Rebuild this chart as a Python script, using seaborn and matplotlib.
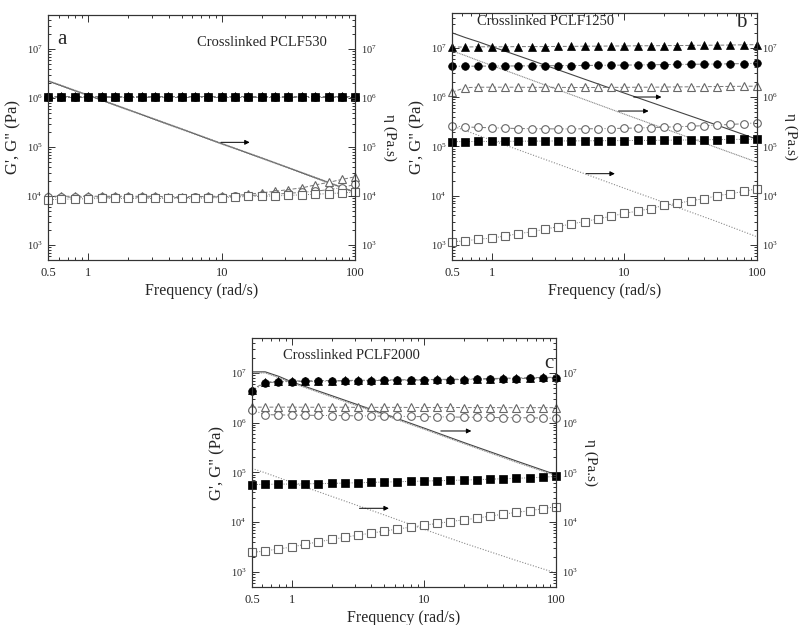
import numpy as np
import pandas as pd
import seaborn as sns
import matplotlib
matplotlib.use("Agg")
import matplotlib.pyplot as plt
from matplotlib.ticker import FixedLocator, LogLocator, NullFormatter, FixedFormatter, LogFormatterSciNotation

sns.set_theme(style="ticks")
plt.rcParams['font.family'] = ['Liberation Serif', 'DejaVu Serif']
plt.rcParams['mathtext.fontset'] = 'stix'

# frequencies (rad/s), 10 points per decade
freq = [0.5, 0.63, 0.79, 1.0, 1.26, 1.58, 2.0, 2.51, 3.16, 3.98, 5.01, 6.31,
        7.94, 10.0, 12.6, 15.8, 20.0, 25.1, 31.6, 39.8, 50.1, 63.1, 79.4, 100.0]
eta_freq = [0.5, 0.63, 0.8, 1.0, 2.0, 5.0, 10.0, 20.0, 50.0, 100.0]

# panel a - PCLF530
a_fill_tri = [1.1e6, 1.1e6, 1.1e6, 1.1e6, 1.1e6, 1.1e6, 1.1e6, 1.1e6, 1.1e6, 1.1e6, 1.1e6, 1.1e6,
              1.1e6, 1.1e6, 1.1e6, 1.1e6, 1.1e6, 1.1e6, 1.1e6, 1.1e6, 1.1e6, 1.1e6, 1.1e6, 1.1e6]
a_fill_cir = [1.08e6, 1.08e6, 1.08e6, 1.08e6, 1.08e6, 1.08e6, 1.08e6, 1.08e6, 1.08e6, 1.08e6, 1.08e6, 1.08e6,
              1.08e6, 1.08e6, 1.08e6, 1.08e6, 1.08e6, 1.08e6, 1.08e6, 1.08e6, 1.08e6, 1.08e6, 1.08e6, 1.08e6]
a_fill_sq = [1.07e6, 1.07e6, 1.07e6, 1.07e6, 1.07e6, 1.07e6, 1.07e6, 1.07e6, 1.07e6, 1.07e6, 1.07e6, 1.07e6,
             1.07e6, 1.07e6, 1.07e6, 1.07e6, 1.07e6, 1.07e6, 1.07e6, 1.07e6, 1.07e6, 1.07e6, 1.07e6, 1.07e6]
a_open_tri = [1.0e4, 1.0e4, 1.0e4, 1.0e4, 1.0e4, 1.0e4, 1.0e4, 1.0e4, 1.0e4, 9.8e3, 9.8e3, 9.8e3,
              1.0e4, 1.0e4, 1.03e4, 1.1e4, 1.18e4, 1.26e4, 1.37e4, 1.48e4, 1.7e4, 1.92e4, 2.2e4, 2.5e4]
a_open_cir = [9.6e3, 9.6e3, 9.6e3, 9.6e3, 9.6e3, 9.6e3, 9.6e3, 9.6e3, 9.6e3, 9.4e3, 9.4e3, 9.5e3,
              9.6e3, 9.8e3, 1.0e4, 1.03e4, 1.07e4, 1.1e4, 1.15e4, 1.2e4, 1.27e4, 1.36e4, 1.5e4, 1.75e4]
a_open_sq = [8.5e3, 8.7e3, 8.8e3, 8.9e3, 9.0e3, 9.0e3, 9.0e3, 9.0e3, 9.0e3, 9.0e3, 9.0e3, 9.1e3,
             9.2e3, 9.4e3, 9.6e3, 9.9e3, 1.0e4, 1.02e4, 1.04e4, 1.07e4, 1.1e4, 1.13e4, 1.17e4, 1.22e4]
a_eta_tri = [2.25e6, 1.8e6, 1.42e6, 1.15e6, 5.8e5, 2.35e5, 1.18e5, 6.0e4, 2.4e4, 1.2e4]
a_eta_cir = [2.3e6, 1.84e6, 1.45e6, 1.17e6, 5.9e5, 2.4e5, 1.2e5, 6.1e4, 2.45e4, 1.22e4]
a_eta_sq = [2.2e6, 1.76e6, 1.4e6, 1.13e6, 5.7e5, 2.3e5, 1.16e5, 5.9e4, 2.35e4, 1.18e4]

# panel b - PCLF1250
b_fill_tri = [1.03e7, 1.03e7, 1.04e7, 1.04e7, 1.04e7, 1.05e7, 1.05e7, 1.05e7, 1.06e7, 1.06e7, 1.07e7, 1.07e7,
              1.08e7, 1.08e7, 1.09e7, 1.09e7, 1.1e7, 1.1e7, 1.11e7, 1.12e7, 1.12e7, 1.13e7, 1.14e7, 1.15e7]
b_fill_cir = [4.2e6, 4.2e6, 4.22e6, 4.24e6, 4.25e6, 4.26e6, 4.28e6, 4.3e6, 4.32e6, 4.34e6, 4.36e6, 4.38e6,
              4.4e6, 4.43e6, 4.46e6, 4.5e6, 4.53e6, 4.56e6, 4.6e6, 4.63e6, 4.66e6, 4.7e6, 4.75e6, 4.8e6]
b_fill_sq = [1.25e5, 1.25e5, 1.26e5, 1.26e5, 1.27e5, 1.27e5, 1.28e5, 1.28e5, 1.29e5, 1.29e5, 1.3e5, 1.3e5,
             1.31e5, 1.31e5, 1.32e5, 1.32e5, 1.33e5, 1.34e5, 1.35e5, 1.36e5, 1.37e5, 1.38e5, 1.39e5, 1.4e5]
b_open_tri = [1.25e6, 1.55e6, 1.58e6, 1.58e6, 1.58e6, 1.58e6, 1.57e6, 1.57e6, 1.57e6, 1.56e6, 1.56e6, 1.56e6,
              1.57e6, 1.57e6, 1.58e6, 1.58e6, 1.59e6, 1.6e6, 1.61e6, 1.62e6, 1.63e6, 1.64e6, 1.65e6, 1.66e6]
b_open_cir = [2.6e5, 2.48e5, 2.42e5, 2.38e5, 2.34e5, 2.3e5, 2.28e5, 2.27e5, 2.26e5, 2.26e5, 2.27e5, 2.28e5,
              2.3e5, 2.33e5, 2.36e5, 2.4e5, 2.45e5, 2.5e5, 2.56e5, 2.63e5, 2.7e5, 2.78e5, 2.88e5, 3.0e5]
b_open_sq = [1.17e3, 1.22e3, 1.32e3, 1.39e3, 1.53e3, 1.7e3, 1.87e3, 2.1e3, 2.37e3, 2.7e3, 3.0e3, 3.4e3,
             3.85e3, 4.4e3, 4.9e3, 5.5e3, 6.4e3, 7.0e3, 7.9e3, 8.7e3, 1.0e4, 1.1e4, 1.22e4, 1.39e4]
b_eta_tri = [2.0e7, 1.6e7, 1.3e7, 1.05e7, 5.5e6, 2.3e6, 1.2e6, 6.3e5, 2.7e5, 1.4e5]
b_eta_cir = [8.6e6, 6.9e6, 5.4e6, 4.35e6, 2.2e6, 8.9e5, 4.5e5, 2.3e5, 9.4e4, 4.8e4]
b_eta_sq = [2.6e5, 2.1e5, 1.65e5, 1.33e5, 6.8e4, 2.8e4, 1.42e4, 7.3e3, 3.0e3, 1.48e3]

# panel c - PCLF2000
c_fill_tri = [4.6e6, 6.5e6, 6.8e6, 6.9e6, 6.9e6, 7.0e6, 7.0e6, 7.05e6, 7.1e6, 7.15e6, 7.2e6, 7.25e6,
              7.3e6, 7.35e6, 7.4e6, 7.45e6, 7.5e6, 7.6e6, 7.7e6, 7.8e6, 7.9e6, 8.0e6, 8.1e6, 8.2e6]
c_fill_cir = [4.4e6, 6.3e6, 6.6e6, 6.7e6, 6.75e6, 6.8e6, 6.85e6, 6.9e6, 6.95e6, 7.0e6, 7.05e6, 7.1e6,
              7.15e6, 7.2e6, 7.25e6, 7.3e6, 7.35e6, 7.45e6, 7.55e6, 7.6e6, 7.7e6, 7.8e6, 7.9e6, 8.0e6]
c_fill_sq = [5.7e4, 5.75e4, 5.8e4, 5.85e4, 5.9e4, 5.95e4, 6.0e4, 6.1e4, 6.2e4, 6.3e4, 6.4e4, 6.5e4,
             6.6e4, 6.7e4, 6.8e4, 6.9e4, 7.0e4, 7.15e4, 7.3e4, 7.45e4, 7.6e4, 7.8e4, 8.0e4, 8.3e4]
c_open_tri = [2.05e6, 2.05e6, 2.05e6, 2.05e6, 2.04e6, 2.04e6, 2.04e6, 2.04e6, 2.03e6, 2.03e6, 2.03e6, 2.03e6,
              2.02e6, 2.02e6, 2.02e6, 2.02e6, 2.01e6, 2.01e6, 2.01e6, 2.0e6, 2.0e6, 2.0e6, 2.0e6, 2.0e6]
c_open_cir = [1.8e6, 1.45e6, 1.43e6, 1.42e6, 1.41e6, 1.4e6, 1.39e6, 1.38e6, 1.37e6, 1.36e6, 1.35e6, 1.34e6,
              1.33e6, 1.32e6, 1.31e6, 1.3e6, 1.29e6, 1.28e6, 1.27e6, 1.26e6, 1.26e6, 1.25e6, 1.24e6, 1.23e6]
c_open_sq = [2.46e3, 2.63e3, 2.9e3, 3.15e3, 3.6e3, 4.0e3, 4.5e3, 4.95e3, 5.5e3, 6.0e3, 6.6e3, 7.3e3,
             7.9e3, 8.7e3, 9.4e3, 1.03e4, 1.11e4, 1.2e4, 1.32e4, 1.45e4, 1.57e4, 1.7e4, 1.86e4, 2.05e4]
c_eta_tri = [1.05e7, 1.05e7, 8.5e6, 6.6e6, 3.5e6, 1.5e6, 7.8e5, 4.0e5, 1.7e5, 9.0e4]
c_eta_cir = [1.0e7, 1.0e7, 8.0e6, 6.3e6, 3.3e6, 1.42e6, 7.4e5, 3.8e5, 1.6e5, 8.6e4]
c_eta_sq = [1.2e5, 9.8e4, 7.8e4, 6.3e4, 3.3e4, 1.4e4, 7.2e3, 3.8e3, 1.7e3, 9.5e2]

panels = {
    "a": dict(fill=[a_fill_tri, a_fill_cir, a_fill_sq], opn=[a_open_tri, a_open_cir, a_open_sq],
              eta=[a_eta_tri, a_eta_cir, a_eta_sq], title="Crosslinked PCLF530",
              arrows=[(9.4, 17.0, 1.26e5)]),
    "b": dict(fill=[b_fill_tri, b_fill_cir, b_fill_sq], opn=[b_open_tri, b_open_cir, b_open_sq],
              eta=[b_eta_tri, b_eta_cir, b_eta_sq], title="Crosslinked PCLF1250",
              arrows=[(11.2, 20.0, 1.0e6), (8.6, 16.0, 5.2e5), (4.9, 8.9, 2.8e4)]),
    "c": dict(fill=[c_fill_tri, c_fill_cir, c_fill_sq], opn=[c_open_tri, c_open_cir, c_open_sq],
              eta=[c_eta_tri, c_eta_cir, c_eta_sq], title="Crosslinked PCLF2000",
              arrows=[(12.8, 24.0, 6.8e5), (3.1, 5.7, 1.9e4)]),
}

markers = ['^', 'o', 's']
link_styles = [(0, (4, 2)), (0, (5, 2, 1, 2)), (0, (1, 1.5))]
eta_styles = [dict(ls='-', color='#444444'), dict(ls=(0, (1, 0.6)), color='#8a8a8a'),
              dict(ls=(0, (1, 1.5)), color='#8a8a8a')]

fig = plt.figure(figsize=(8, 6.25), dpi=100)
boxes = {"a": [0.06, 0.584, 0.384, 0.392],
         "b": [0.565, 0.584, 0.381, 0.395],
         "c": [0.315, 0.061, 0.38, 0.398]}
txt_pos = {"a": ((0.046, 0.9), (0.485, 0.886)),
           "b": ((0.948, 0.964), (0.082, 0.966)),
           "c": ((0.977, 0.9), (0.102, 0.932))}

for key, p in panels.items():
    ax = fig.add_axes(boxes[key])
    ax.set_xscale('log')
    ax.set_yscale('log')
    ax.set_xlim(0.5, 100)
    ax.set_ylim(5e2, 5e7)

    for i, ys in enumerate(p["eta"]):
        sns.lineplot(x=eta_freq, y=ys, ax=ax, lw=0.8, **eta_styles[i])
    for i, ys in enumerate(p["opn"]):
        sns.lineplot(x=freq, y=ys, ax=ax, marker=markers[i], markersize=5.5, lw=0.7,
                     color='#777777', ls=link_styles[i], markerfacecolor='white',
                     markeredgecolor='#666666', markeredgewidth=0.8, clip_on=False)
    for i, ys in enumerate(p["fill"]):
        sns.lineplot(x=freq, y=ys, ax=ax, marker=markers[i], markersize=5.5, lw=0.7,
                     color='#777777', ls=link_styles[i], markerfacecolor='black',
                     markeredgecolor='black', markeredgewidth=0.5, clip_on=False)

    for x0, x1, y in p["arrows"]:
        ax.annotate('', xy=(x1, y), xytext=(x0, y),
                    arrowprops=dict(arrowstyle='-|>', lw=0.7, color='black', mutation_scale=7))

    ax.xaxis.set_major_locator(FixedLocator([0.5, 1, 10, 100]))
    ax.xaxis.set_major_formatter(FixedFormatter(['0.5', '1', '10', '100']))
    ax.xaxis.set_minor_locator(LogLocator(base=10, subs=np.arange(2, 10) / 1.0, numticks=20))
    ax.xaxis.set_minor_formatter(NullFormatter())
    ax.yaxis.set_major_locator(LogLocator(base=10, numticks=12))
    ax.yaxis.set_major_formatter(LogFormatterSciNotation())
    ax.yaxis.set_minor_locator(LogLocator(base=10, subs=np.arange(2, 10) / 1.0, numticks=12))
    ax.yaxis.set_minor_formatter(NullFormatter())
    ax.tick_params(which='both', direction='in', top=True, color='#333333', width=0.7)
    ax.tick_params(which='major', length=5)
    ax.tick_params(which='minor', length=2.5)
    ax.tick_params(axis='x', labelsize=9, pad=5)
    ax.tick_params(axis='y', labelsize=7.5, pad=4)

    ax2 = ax.twinx()
    ax2.set_yscale('log')
    ax2.set_ylim(5e2, 5e7)
    ax2.yaxis.set_major_locator(LogLocator(base=10, numticks=12))
    ax2.yaxis.set_major_formatter(LogFormatterSciNotation())
    ax2.yaxis.set_minor_locator(LogLocator(base=10, subs=np.arange(2, 10) / 1.0, numticks=12))
    ax2.yaxis.set_minor_formatter(NullFormatter())
    ax2.tick_params(which='both', direction='in', color='#333333', width=0.7, labelsize=7.5, pad=4)
    ax2.tick_params(which='major', length=5)
    ax2.tick_params(which='minor', length=2.5)

    for a_ in (ax, ax2):
        for s in a_.spines.values():
            s.set_linewidth(0.8)
            s.set_color('#333333')

    ax.set_xlabel('Frequency (rad/s)', fontsize=11.5, labelpad=3)
    ax.set_ylabel('G\', G" (Pa)', fontsize=12, labelpad=4)
    ax2.set_ylabel('η (Pa.s)', fontsize=11, rotation=270, labelpad=14)

    (lx, ly), (tx, ty) = txt_pos[key]
    ax.text(lx, ly, key, transform=ax.transAxes, fontsize=15, ha='center', va='center')
    ax.text(tx, ty, p["title"], transform=ax.transAxes, fontsize=10.5, ha='left', va='center')

fig.savefig('out.png', dpi=100)
